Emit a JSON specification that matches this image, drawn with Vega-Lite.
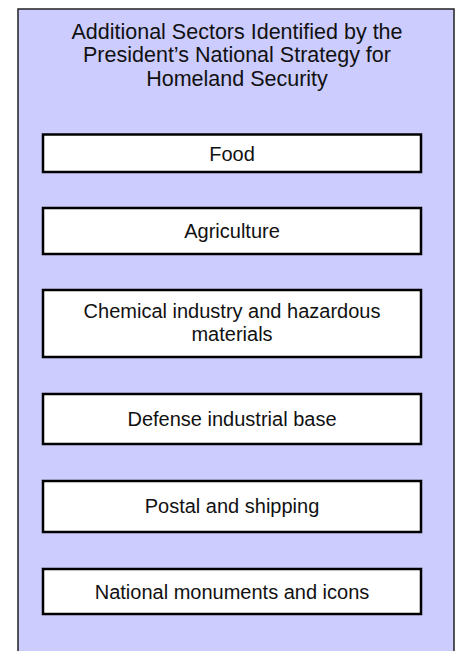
{
  "$schema": "https://vega.github.io/schema/vega-lite/v6.json",
  "width": 460,
  "height": 651,
  "autosize": {"type": "fit", "contains": "padding"},
  "padding": 0,
  "background": "white",
  "config": {"view": {"stroke": null}},
  "datasets": {
    "boxes": [
      {"kind": "outer", "x": 18, "x2": 454, "y": 9, "y2": 660},
      {"kind": "inner", "x": 43, "x2": 421, "y": 134.5, "y2": 172},
      {"kind": "inner", "x": 43, "x2": 421, "y": 208, "y2": 254},
      {"kind": "inner", "x": 43, "x2": 421, "y": 290, "y2": 357},
      {"kind": "inner", "x": 43, "x2": 421, "y": 394, "y2": 444},
      {"kind": "inner", "x": 43, "x2": 421, "y": 481, "y2": 532},
      {"kind": "inner", "x": 43, "x2": 421, "y": 569, "y2": 614}
    ],
    "texts": [
      {"kind": "title", "x": 237, "y": 32.5, "label": "Additional Sectors Identified by the"},
      {"kind": "title", "x": 237, "y": 56, "label": "President’s National Strategy for"},
      {"kind": "title", "x": 237, "y": 79.5, "label": "Homeland Security"},
      {"kind": "box", "x": 232, "y": 154.5, "label": "Food"},
      {"kind": "box", "x": 232, "y": 231.5, "label": "Agriculture"},
      {"kind": "box", "x": 232, "y": 312, "label": "Chemical industry and hazardous"},
      {"kind": "box", "x": 232, "y": 335, "label": "materials"},
      {"kind": "box", "x": 232, "y": 419.5, "label": "Defense industrial base"},
      {"kind": "box", "x": 232, "y": 507, "label": "Postal and shipping"},
      {"kind": "box", "x": 232, "y": 592.5, "label": "National monuments and icons"}
    ]
  },
  "layer": [
    {
      "data": {"name": "boxes"},
      "transform": [{"filter": "datum.kind == 'outer'"}],
      "mark": {"type": "rect", "fill": "#ccccff", "stroke": "#222222", "strokeWidth": 1.5, "clip": true},
      "encoding": {
        "x": {"field": "x", "type": "quantitative", "scale": {"domain": [0, 460], "nice": false, "zero": false}, "axis": null},
        "x2": {"field": "x2"},
        "y": {"field": "y", "type": "quantitative", "scale": {"domain": [0, 651], "nice": false, "zero": false, "reverse": true}, "axis": null},
        "y2": {"field": "y2"}
      }
    },
    {
      "data": {"name": "boxes"},
      "transform": [{"filter": "datum.kind == 'inner'"}],
      "mark": {"type": "rect", "fill": "white", "stroke": "#000000", "strokeWidth": 2.5},
      "encoding": {
        "x": {"field": "x", "type": "quantitative", "axis": null},
        "x2": {"field": "x2"},
        "y": {"field": "y", "type": "quantitative", "axis": null},
        "y2": {"field": "y2"}
      }
    },
    {
      "data": {"name": "texts"},
      "mark": {"type": "text", "font": "Liberation Sans", "color": "#111111", "align": "center", "baseline": "middle"},
      "encoding": {
        "x": {"field": "x", "type": "quantitative", "axis": null},
        "y": {"field": "y", "type": "quantitative", "axis": null},
        "text": {"field": "label"},
        "size": {"condition": {"test": "datum.kind == 'title'", "value": 21.5}, "value": 20}
      }
    }
  ]
}
